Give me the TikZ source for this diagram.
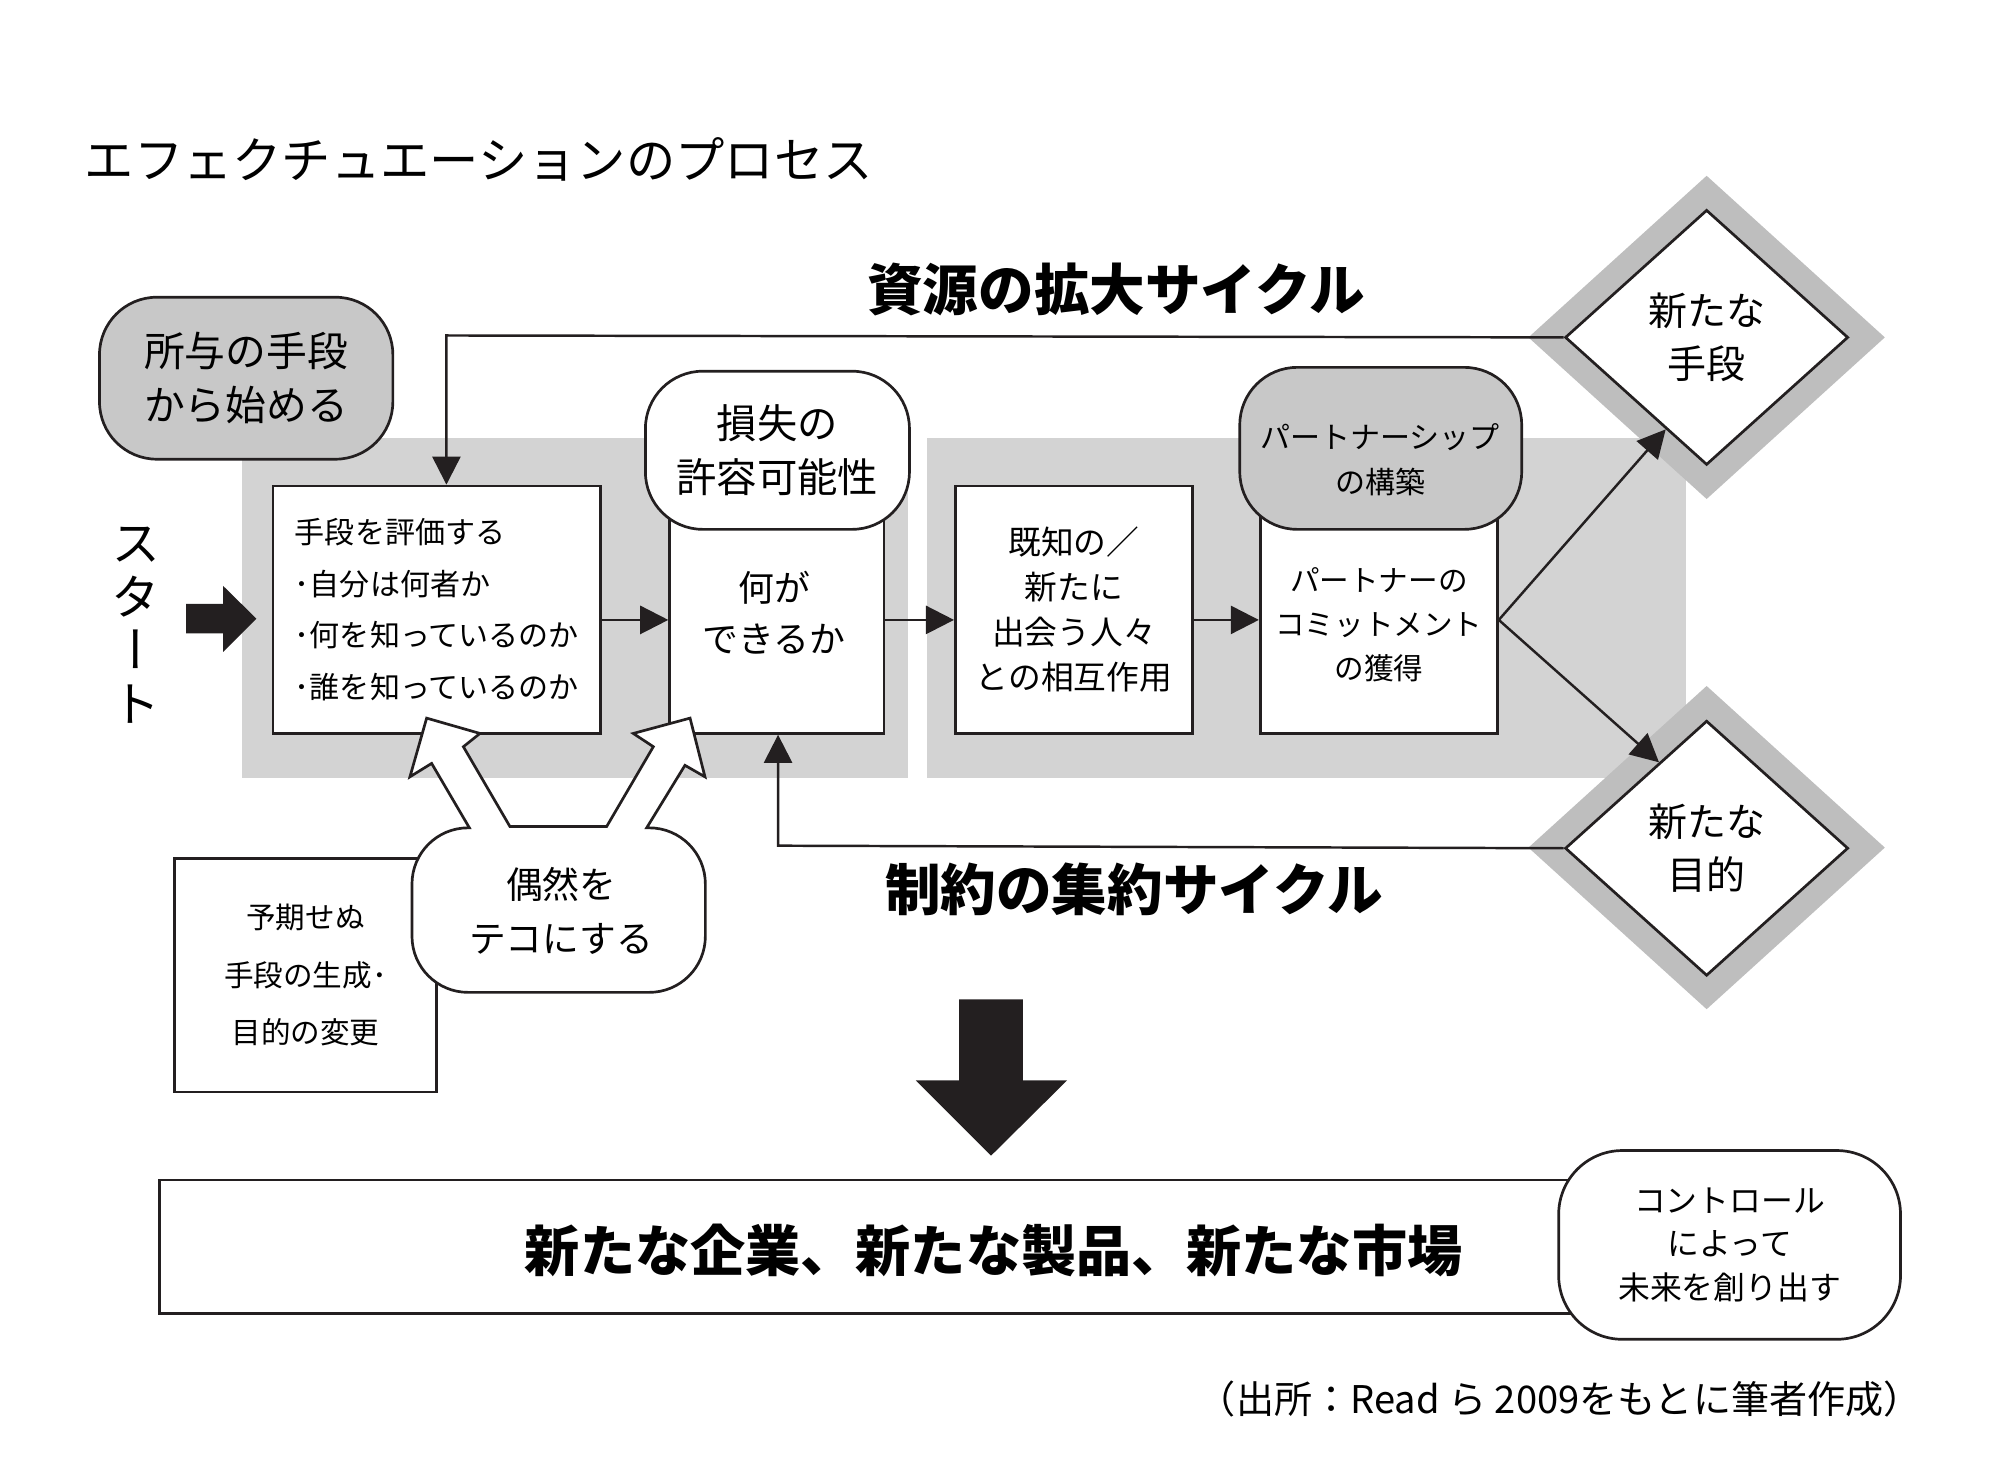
\documentclass[tikz,border=0pt]{standalone}
\usepackage{fontspec}
\setmainfont{Noto Sans CJK JP}
\newfontfamily\vertjp[RawFeature=+vert]{Noto Sans CJK JP}
\usetikzlibrary{arrows.meta,shapes.geometric}
\definecolor{bggray}{HTML}{D3D3D3}
\definecolor{boxgray}{HTML}{C8C8C8}
\definecolor{diagray}{HTML}{BEBEBE}
\definecolor{inkblack}{HTML}{231F20}
\newcommand{\fs}[2]{\fontsize{#1}{#2}\selectfont}

\begin{document}
\begin{tikzpicture}[x=0.1mm,y=-0.1mm,
	box/.style={draw=inkblack,fill=white,line width=0.6pt,inner sep=0pt,align=center},
	gbubble/.style={box,fill=boxgray,rounded corners=4.5mm},
	wbubble/.style={box,rounded corners=4.5mm},
	flow/.style={draw=inkblack,line width=0.55pt,-{Triangle[length=2.2mm,width=2.2mm]}},
	gem/.style={diamond,draw=inkblack,fill=white,line width=0.6pt,inner sep=0pt,minimum width=22.2mm,minimum height=20mm,align=center,font=\fs{8.7}{12}},
	gemback/.style={diamond,fill=diagray,inner sep=0pt,minimum width=28mm,minimum height=25.4mm}]
		\useasboundingbox (0,0) rectangle (1568,1158);
		% titles
		\node[anchor=west,font=\fs{11}{13}] (title) at (54,125) {エフェクチュエーションのプロセス};
		\node[font=\bfseries\fs{12.4}{14}] (expand) at (875,227) {資源の拡大サイクル};
		\node[font=\bfseries\fs{12.4}{14}] (narrow) at (889,697) {制約の集約サイクル};
		% gray bands
		\fill[bggray] (190,343) rectangle (712,610);
		\fill[bggray] (727,343) rectangle (1322,610);
		\node[gbubble,minimum width=23mm,minimum height=12.7mm,font=\fs{9.1}{12}] (given) at (193,296.5) {所与の手段\\から始める};
		\node[align=center,font=\vertjp\fs{11}{11.95}] (start) at (107,490) {ス\\タ\\ー\\ト};
		\fill[inkblack] (146,473.5)--(175,473.5)--(175,459.4)--(201,485)--(175,511)--(175,496.6)--(146,496.6)--cycle;
		% process boxes
		\node[box,minimum width=25.7mm,minimum height=19.4mm,align=left,font=\fs{6.7}{11.5}] (eval) at (342.5,478) {手段を評価する\\･自分は何者か\\･何を知っているのか\\･誰を知っているのか};
		\node[box,minimum width=16.8mm,minimum height=17mm] (can) at (609,490) {};
		\node[align=center,font=\fs{8}{11.4}] (cantxt) at (607,480) {何が\\できるか};
		\node[wbubble,minimum width=20.7mm,minimum height=12.4mm,font=\fs{9}{12.2}] (loss) at (609.5,353) {損失の\\許容可能性};
		\node[box,minimum width=18.6mm,minimum height=19.4mm,font=\fs{7.3}{10}] (meet) at (842,478) {既知の／\\新たに\\出会う人々\\との相互作用};
		\node[box,minimum width=18.6mm,minimum height=17mm,font=\fs{6.6}{9.8}] (commit) at (1081,490) {パートナーの\\コミットメント\\の獲得};
		\node[gbubble,minimum width=22.1mm,minimum height=12.7mm] (part) at (1082.5,351.5) {};
		\node[align=center,font=\fs{6.7}{10}] (parttxt) at (1082,360.5) {パートナーシップ\\の構築};
		% outcomes
		\node[gemback] (meansbg) at (1338,264.5) {};
		\node[gem] (means) at (1338,264.5) {新たな\\手段};
		\node[gemback] (aimsbg) at (1338,664.5) {};
		\node[gem] (aims) at (1338,665) {新たな\\目的};
		% connectors
		\coordinate (topturn) at (350,263);
		\coordinate (botturn) at (610,663);
		\draw[flow] (means.west)--(topturn)--(topturn |- eval.north);
		\draw[flow] (aims.west)--(botturn)--(botturn |- can.south);
		\draw[flow] (eval.east |- 0,486)--(can.west |- 0,486);
		\draw[flow] (can.east |- 0,486)--(meet.west |- 0,486);
		\draw[flow] (meet.east |- 0,486)--(commit.west |- 0,486);
		\draw[flow] (commit.east |- 0,486)--(means.246);
		\draw[flow] (commit.east |- 0,486)--(aims.119.6);
		% contingency
		\node[box,minimum width=20.5mm,minimum height=18.3mm,font=\fs{6.6}{12.8}] (unexp) at (239.5,764.5) {予期せぬ\\手段の生成･\\目的の変更};
		\draw[draw=inkblack,fill=white,line width=0.6pt] (368,649)--(338.4,598.5)--(321.4,609)--(334.5,563)--(376.3,575)--(363.3,585.4)--(399.8,648)--(475.6,648)--(512.2,585.4)--(496.5,575)--(541,563)--(552.7,609)--(537,600)--(507,649)
			[rounded corners=4.4mm]--(553,649)--(553,778)--(323,778)--(323,649)[sharp corners]--(368,649)--cycle;
		\node[align=center,font=\fs{8.2}{12}] (chance) at (440,714) {偶然を\\テコにする};
		% result
		\fill[inkblack] (752,783.5)--(802,783.5)--(802,847)--(836.6,847)--(777,906)--(718,847)--(752,847)--cycle;
		\node[box,minimum width=110.7mm,minimum height=10.5mm] (result) at (678.5,977.5) {};
		\node[font=\bfseries\fs{12.3}{14}] (resulttxt) at (779,980) {新たな企業、新たな製品、新たな市場};
		\node[wbubble,rounded corners=5mm,minimum width=26.8mm,minimum height=14.8mm,font=\fs{7.1}{9.7}] (control) at (1356,976) {コントロール\\によって\\未来を創り出す};
		\node[anchor=east,font=\fs{8.5}{10}] (source) at (1519,1097) {（出所：Read ら 2009をもとに筆者作成）};
\end{tikzpicture}
\end{document}
